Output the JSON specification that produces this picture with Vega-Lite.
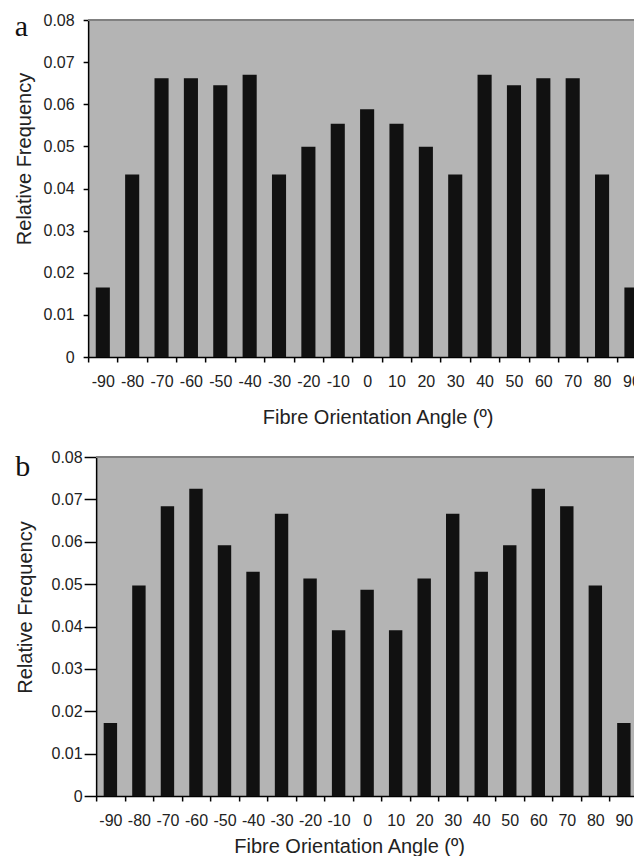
{
  "$schema": "https://vega.github.io/schema/vega-lite/v6.json",
  "background": "white",
  "padding": {"left": 14, "top": 12, "right": 0, "bottom": 0},
  "spacing": 22,
  "center": true,
  "bounds": "full",
  "config": {
    "view": {"fill": "#b4b4b4", "stroke": null},
    "font": "Liberation Sans",
    "axis": {
      "grid": false,
      "domainColor": "#000",
      "domainWidth": 1.5,
      "tickColor": "#000",
      "tickWidth": 1.5,
      "labelColor": "#222",
      "titleColor": "#222",
      "labelFontSize": 16,
      "titleFontSize": 20,
      "titleFontWeight": "normal",
      "labelFont": "Liberation Sans",
      "titleFont": "Liberation Sans"
    },
    "title": {"font": "Liberation Serif", "fontSize": 30, "fontWeight": "normal", "color": "#111", "anchor": "start", "frame": "bounds"}
  },
  "datasets": {
    "a": [
      {"angle": -90, "freq": 0.0165}, {"angle": -80, "freq": 0.0433}, {"angle": -70, "freq": 0.0662},
      {"angle": -60, "freq": 0.0662}, {"angle": -50, "freq": 0.0645}, {"angle": -40, "freq": 0.0670},
      {"angle": -30, "freq": 0.0433}, {"angle": -20, "freq": 0.0499}, {"angle": -10, "freq": 0.0554},
      {"angle": 0, "freq": 0.0588}, {"angle": 10, "freq": 0.0554}, {"angle": 20, "freq": 0.0499},
      {"angle": 30, "freq": 0.0433}, {"angle": 40, "freq": 0.0670}, {"angle": 50, "freq": 0.0645},
      {"angle": 60, "freq": 0.0662}, {"angle": 70, "freq": 0.0662}, {"angle": 80, "freq": 0.0433},
      {"angle": 90, "freq": 0.0165}
    ],
    "b": [
      {"angle": -90, "freq": 0.0172}, {"angle": -80, "freq": 0.0497}, {"angle": -70, "freq": 0.0684},
      {"angle": -60, "freq": 0.0725}, {"angle": -50, "freq": 0.0592}, {"angle": -40, "freq": 0.0529},
      {"angle": -30, "freq": 0.0666}, {"angle": -20, "freq": 0.0513}, {"angle": -10, "freq": 0.0391},
      {"angle": 0, "freq": 0.0487}, {"angle": 10, "freq": 0.0391}, {"angle": 20, "freq": 0.0513},
      {"angle": 30, "freq": 0.0666}, {"angle": 40, "freq": 0.0529}, {"angle": 50, "freq": 0.0592},
      {"angle": 60, "freq": 0.0725}, {"angle": 70, "freq": 0.0684}, {"angle": 80, "freq": 0.0497},
      {"angle": 90, "freq": 0.0172}
    ]
  },
  "vconcat": [
    {
      "title": {"text": "a", "offset": -30},
      "width": 558,
      "height": 337,
      "data": {"name": "a"},
      "layer": [
        {
          "mark": {"type": "bar", "color": "#111", "width": {"band": 0.48}},
          "encoding": {
            "x": {
              "field": "angle", "type": "ordinal",
              "scale": {"paddingInner": 0, "paddingOuter": 0},
              "axis": {
                "title": "Fibre Orientation Angle (º)", "labelAngle": 0, "labelOverlap": false,
                "tickSize": 5, "tickOffset": -14.68, "labelOffset": 14.68, "labelPadding": 11, "titlePadding": 18,
                "titleX": 289.5, "titleAlign": "center"
              }
            },
            "y": {
              "field": "freq", "type": "quantitative",
              "scale": {"domain": [0, 0.08], "nice": false},
              "axis": {
                "title": "Relative Frequency",
                "values": [0, 0.01, 0.02, 0.03, 0.04, 0.05, 0.06, 0.07, 0.08],
                "format": ".2~f", "tickSize": 5, "labelPadding": 9,
                "titleX": -57.5, "titleY": 138.5, "titleBaseline": "alphabetic", "titleAlign": "center", "titleAngle": 270
              }
            }
          }
        },
        {
          "mark": {"type": "rule", "color": "#808080", "strokeWidth": 1.5},
          "encoding": {"y": {"datum": 0.08}}
        }
      ]
    },
    {
      "title": {"text": "b", "offset": -33},
      "width": 542,
      "height": 339,
      "data": {"name": "b"},
      "layer": [
        {
          "mark": {"type": "bar", "color": "#111", "width": {"band": 0.47}},
          "encoding": {
            "x": {
              "field": "angle", "type": "ordinal",
              "scale": {"paddingInner": 0, "paddingOuter": 0},
              "axis": {
                "title": "Fibre Orientation Angle (º)", "labelAngle": 0, "labelOverlap": false,
                "tickSize": 5, "tickOffset": -14.26, "labelOffset": 14.26, "labelPadding": 11, "titlePadding": 8,
                "titleX": 253, "titleAlign": "center"
              }
            },
            "y": {
              "field": "freq", "type": "quantitative",
              "scale": {"domain": [0, 0.08], "nice": false},
              "axis": {
                "title": "Relative Frequency",
                "values": [0, 0.01, 0.02, 0.03, 0.04, 0.05, 0.06, 0.07, 0.08],
                "format": ".2~f", "tickSize": 12, "labelPadding": 2,
                "titleX": -65, "titleY": 150, "titleBaseline": "alphabetic", "titleAlign": "center", "titleAngle": 270
              }
            }
          }
        },
        {
          "mark": {"type": "rule", "color": "#808080", "strokeWidth": 1.5},
          "encoding": {"y": {"datum": 0.08}}
        }
      ]
    }
  ]
}
